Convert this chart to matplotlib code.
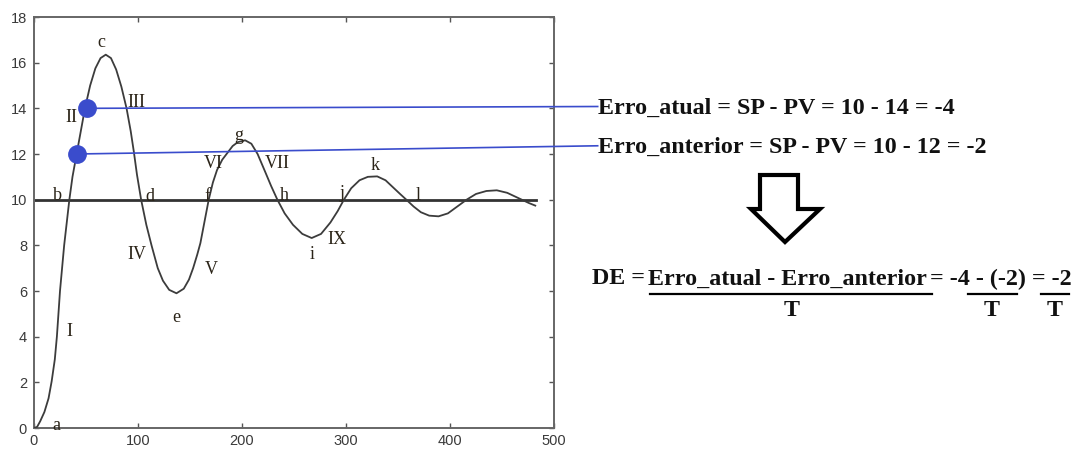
import matplotlib
matplotlib.use("Agg")
import matplotlib.pyplot as plt
from matplotlib.lines import Line2D
from matplotlib.patches import Polygon

# Process variable response (time, PV)
t = [0, 3, 6, 10, 14, 17, 20, 22, 25, 29, 34, 37, 41, 45, 49, 54, 59, 64, 69,
     74, 79, 84, 89, 93, 96, 99, 103, 108, 113, 119, 124, 130, 137, 144, 149,
     153, 157, 160, 164, 168, 172, 176, 181, 186, 191, 196, 203, 209, 215, 222,
     228, 234, 241, 249, 258, 267, 276, 285, 292, 298, 305, 313, 321, 330, 338,
     345, 352, 358, 365, 372, 380, 389, 398, 407, 416, 425, 435, 445, 455, 462,
     469, 476, 482]
pv = [0.0, 0.05, 0.3, 0.7, 1.3, 2.05, 3.0, 4.0, 6.0, 8.0, 10.0, 11.0, 12.0, 13.0,
      14.0, 15.0, 15.75, 16.2, 16.35, 16.2, 15.7, 14.95, 14.0, 13.0, 12.1, 11.1,
      10.0, 8.9, 8.0, 7.0, 6.45, 6.05, 5.9, 6.1, 6.5, 7.0, 7.6, 8.1, 9.05, 10.0,
      10.75, 11.3, 11.75, 12.05, 12.35, 12.52, 12.6, 12.45, 12.0, 11.25, 10.6,
      10.0, 9.4, 8.9, 8.5, 8.32, 8.5, 9.0, 9.5, 10.0, 10.5, 10.85, 11.0, 11.02,
      10.85, 10.55, 10.25, 10.0, 9.7, 9.45, 9.3, 9.27, 9.4, 9.7, 10.0, 10.25,
      10.38, 10.41, 10.3, 10.15, 10.0, 9.85, 9.74]

setpoint = 10
sp_end = 483

# Sampled PV values highlighted in the plot (time, PV)
sample_t = [41, 51]
sample_pv = [12, 14]

# Point names placed along the curve
point_labels = [("a", 21.8, 0.13), ("b", 22.4, 10.2), ("c", 65, 16.87),
                ("d", 111, 10.15), ("e", 137, 4.85), ("f", 166.7, 10.15),
                ("g", 196.5, 12.8), ("h", 241, 10.2), ("i", 267, 7.6),
                ("j", 296, 10.26), ("k", 328.5, 11.5), ("l", 369, 10.2),
                ("I", 34, 4.22), ("II", 36.2, 13.58), ("III", 98.7, 14.24),
                ("IV", 98.7, 7.59), ("V", 170, 6.93), ("VI", 172.4, 11.6),
                ("VII", 234, 11.6), ("IX", 291, 8.25)]

W, H = 1084, 453
fig = plt.figure(figsize=(W / 100, H / 100), dpi=100)
ax = fig.add_axes([34 / W, 1 - 428 / H, (554 - 34) / W, (428 - 17) / H])


def fx(px):
    return px / W


def fy(py):
    return 1 - py / H


curve_col = "#3c3c3c"
blue = "#3a4ccc"
label_col = "#2b2418"

ax.plot(t, pv, color=curve_col, lw=1.3, zorder=3)
ax.plot([0, sp_end], [setpoint, setpoint], color="#333333", lw=2.0, zorder=2)

# Guide lines running from the sampled points to the error formulas
ax.plot([sample_t[1], 542], [sample_pv[1], 14.08], color=blue, lw=1.2,
        clip_on=False, zorder=4)
ax.plot([sample_t[0], 542], [sample_pv[0], 12.36], color=blue, lw=1.2,
        clip_on=False, zorder=4)
ax.plot(sample_t, sample_pv, "o", color=blue, ms=12.5, zorder=5)

for name, lx, ly in point_labels:
    ax.text(lx, ly, name, family="Liberation Serif", fontsize=13,
            color=label_col, ha="center", va="center", zorder=6)

ax.set_xlim(0, 500)
ax.set_ylim(0, 18)
ax.set_xticks(range(0, 501, 100))
ax.set_yticks(range(0, 19, 2))
ax.tick_params(direction="in", length=3.5, width=1.0, top=True, right=True,
               colors="#555555", labelcolor="#3a3a3a", labelsize=10.5)
ax.tick_params(axis="x", pad=4)
ax.tick_params(axis="y", pad=5)
for lab in ax.get_xticklabels() + ax.get_yticklabels():
    lab.set_family("Liberation Sans")
for sp in ax.spines.values():
    sp.set_color("#666666")
    sp.set_linewidth(1.4)

# Error equations
tkw = dict(family="Liberation Serif", weight="bold", fontsize=17.3,
           color="#111111", va="center", ha="left")
fig.text(fx(598), fy(108), "Erro_atual = SP - PV = 10 - 14 = -4", **tkw)
fig.text(fx(598), fy(147), "Erro_anterior = SP - PV = 10 - 12 = -2", **tkw)

# Hollow down arrow
arrow_px = [(760, 175), (798, 175), (798, 209), (820, 209), (785, 242),
            (751, 209), (760, 209)]
fig.patches.append(Polygon([(fx(x), fy(y)) for x, y in arrow_px], closed=True,
                           fill=False, edgecolor="black", lw=3.0,
                           joinstyle="miter", transform=fig.transFigure))

# Derivative of the error
fig.text(fx(592), fy(279), "DE =", **tkw)
fig.text(fx(648), fy(279), "Erro_atual - Erro_anterior", **tkw)
fig.text(fx(930), fy(279), "= -4 - (-2) = -2", **tkw)
for x0, x1 in [(650, 932), (968, 1017), (1041, 1069)]:
    fig.lines.append(Line2D([fx(x0), fx(x1)], [fy(294), fy(294)],
                            color="black", lw=1.6,
                            transform=fig.transFigure))
ckw = dict(tkw, ha="center")
for xc in (792, 992, 1055):
    fig.text(fx(xc), fy(311), "T", **ckw)

fig.savefig("out.png", dpi=100, facecolor="white")
